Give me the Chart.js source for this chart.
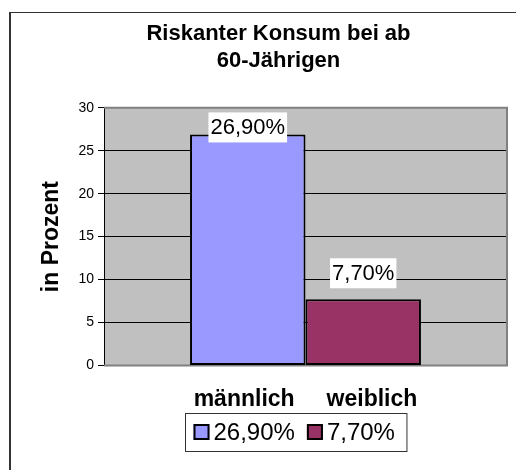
<!DOCTYPE html>
<html>
<head>
<meta charset="utf-8">
<script src="https://cdn.jsdelivr.net/npm/chart.js@4/dist/chart.umd.min.js"></script>
<style>
  html, body { margin: 0; padding: 0; background: #fff; }
  canvas { display: block; }
</style>
</head>
<body>
<canvas id="chart" width="516" height="470"></canvas>
<script>
// Daten
const categories = ['männlich', 'weiblich'];
const seriesNames = ['26,90%', '7,70%'];
const values = [26.9, 7.7];
const seriesColors = ['#9999FF', '#993366'];
const yTicks = [0, 5, 10, 15, 20, 25, 30];

const FONT = '"Liberation Sans", Arial, sans-serif';

const formatPercent = (v) => v.toFixed(2).replace('.', ',') + '%';

// Hintergrund der Zeichenfläche und Rahmen
const framePlugin = {
  id: 'frame',
  beforeDraw(chart) {
    const { ctx, chartArea: a } = chart;
    ctx.save();
    ctx.fillStyle = '#C0C0C0';
    ctx.fillRect(a.left, a.top, a.right - a.left, a.bottom - a.top);
    // äußerer Rahmen (links/oben)
    ctx.strokeStyle = '#333';
    ctx.lineWidth = 2;
    ctx.beginPath();
    ctx.moveTo(10, chart.height);
    ctx.lineTo(10, 12);
    ctx.stroke();
    ctx.lineWidth = 1;
    ctx.beginPath();
    ctx.moveTo(9, 12.5);
    ctx.lineTo(chart.width, 12.5);
    ctx.stroke();
    ctx.restore();
  },
  beforeDatasetsDraw(chart) {
    const { ctx, chartArea: a } = chart;
    ctx.save();
    ctx.strokeStyle = '#808080';
    ctx.lineWidth = 2;
    ctx.beginPath();
    ctx.moveTo(a.left, a.top);
    ctx.lineTo(a.right, a.top);
    ctx.lineTo(a.right, a.bottom);
    ctx.lineTo(a.left, a.bottom);
    ctx.stroke();
    ctx.restore();
  },
};

// Wertebeschriftungen über den Balken
const valueLabelPlugin = {
  id: 'valueLabels',
  afterDatasetsDraw(chart) {
    const { ctx } = chart;
    ctx.save();
    ctx.font = '22px ' + FONT;
    ctx.textAlign = 'center';
    ctx.textBaseline = 'middle';
    chart.data.datasets.forEach((ds, i) => {
      const bar = chart.getDatasetMeta(i).data[0];
      const text = formatPercent(ds.data[0]);
      const w = ctx.measureText(text).width + 4;
      const h = 30;
      const cy = bar.y - ds.labelOffset;
      ctx.fillStyle = '#fff';
      ctx.fillRect(bar.x - w / 2, cy - h / 2, w, h);
      ctx.fillStyle = '#000';
      ctx.fillText(text, bar.x, cy + 1);
    });
    ctx.restore();
  },
};

// Legende mit Rahmen
const legendBoxPlugin = {
  id: 'legendBox',
  afterDraw(chart) {
    const { ctx } = chart;
    const pad = 8, padRight = 12, marker = 16, gap = 4, spacing = 12;
    ctx.save();
    ctx.font = '24px ' + FONT;
    const items = chart.data.datasets.map((ds) => ({
      text: ds.label,
      color: ds.backgroundColor,
      w: ctx.measureText(ds.label).width,
    }));
    let total = pad + padRight + spacing * (items.length - 1);
    items.forEach((it) => { total += marker + gap + it.w; });
    const cx = (chart.chartArea.left + chart.chartArea.right) / 2 - 10;
    const top = 413, height = 38;
    const left = Math.round(cx - total / 2) + 0.5;
    ctx.strokeStyle = '#333';
    ctx.lineWidth = 1;
    ctx.fillStyle = '#fff';
    ctx.fillRect(left, top + 0.5, total, height);
    ctx.strokeRect(left, top + 0.5, total, height);
    const cy = top + height / 2;
    let x = left + pad;
    ctx.textBaseline = 'middle';
    ctx.textAlign = 'left';
    items.forEach((it) => {
      ctx.fillStyle = it.color;
      ctx.fillRect(x, cy - marker / 2, marker, marker);
      ctx.strokeStyle = '#000';
      ctx.lineWidth = 2;
      ctx.strokeRect(x + 1, cy - marker / 2 + 1, marker - 2, marker - 2);
      ctx.fillStyle = '#000';
      ctx.fillText(it.text, x + marker + gap, cy + 1);
      x += marker + gap + it.w + spacing;
    });
    ctx.restore();
  },
};

const ctx = document.getElementById('chart').getContext('2d');

const myChart = new Chart(ctx, {
  type: 'bar',
  data: {
    labels: [categories.join('     ')],
    datasets: seriesNames.map((name, i) => ({
      label: name,
      data: [values[i]],
      backgroundColor: seriesColors[i],
      borderColor: '#000',
      borderWidth: 2,
      borderSkipped: false,
      labelOffset: i === 0 ? 7 : 26,
    })),
  },
  options: {
    responsive: false,
    animation: false,
    devicePixelRatio: 1,
    layout: {
      padding: { left: 50, right: 9, top: 12, bottom: 37 },
    },
    datasets: {
      bar: {
        categoryPercentage: 0.573,
        barPercentage: 1,
      },
    },
    scales: {
      x: {
        grid: { display: false, drawTicks: false },
        border: { display: false },
        ticks: {
          color: '#000',
          padding: 20,
          font: { family: FONT, size: 23, weight: 'bold' },
        },
      },
      y: {
        min: 0,
        max: 30,
        afterFit(scale) { scale.width = 54; },
        afterBuildTicks(scale) { scale.ticks = yTicks.map((v) => ({ value: v })); },
        grid: {
          color: '#000',
          lineWidth: 1,
          tickLength: 6,
        },
        border: { color: '#000', width: 1 },
        ticks: {
          color: '#000',
          padding: 4,
          font: { family: FONT, size: 14 },
        },
        title: {
          display: true,
          text: 'in Prozent',
          color: '#000',
          padding: { top: -12, bottom: 0 },
          font: { family: FONT, size: 23, weight: 'bold' },
        },
      },
    },
    plugins: {
      legend: { display: false },
      tooltip: { enabled: false },
      title: {
        display: true,
        text: ['Riskanter Konsum bei ab', '60-Jährigen'],
        color: '#000',
        padding: { top: 9, bottom: 34 },
        font: { family: FONT, size: 22, weight: 'bold', lineHeight: 1.2 },
      },
    },
  },
  plugins: [framePlugin, valueLabelPlugin, legendBoxPlugin],
});
</script>
</body>
</html>
